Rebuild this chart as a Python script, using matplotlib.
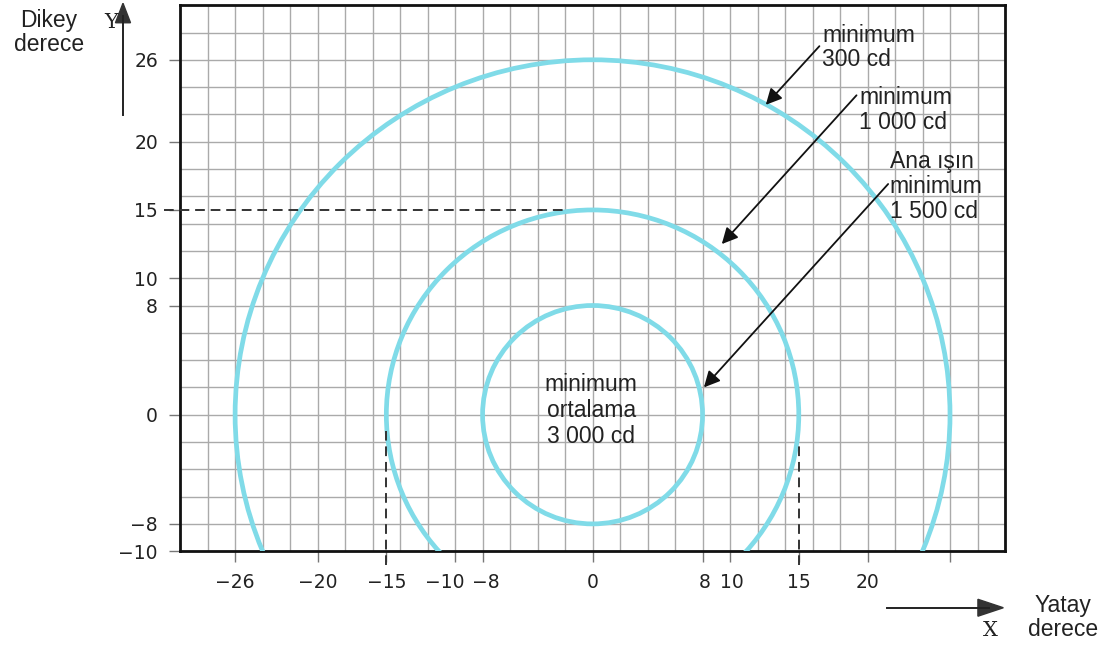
import matplotlib.pyplot as plt
import matplotlib.transforms as mtransforms
from matplotlib.patches import Circle
import numpy as np

# isolux circles (radius in degrees) and their labels
radii = [26, 15, 8]
labels = ['minimum\n300 cd', 'minimum\n1 000 cd', 'Ana ışın\nminimum\n1 500 cd']
# arrow heads on each circle and label anchor points
arrow_heads = [(12.6, 22.7), (9.4, 12.5), (8.1, 2.0)]
label_pos = [(16.7, 26.9), (19.4, 22.3), (21.6, 16.7)]
arrow_tails = [(16.5, 27.0), (19.2, 23.4), (21.5, 16.9)]

xticks = [-26, -20, -15, -10, -8, 0, 8, 10, 15, 20, 26]
xticklabels = ['−26', '−20', '−15', '−10', '−8', '0', '8', '10', '15', '20', '']
yticks = [26, 20, 15, 10, 8, 0, -8, -10]
yticklabels = ['26', '20', '15', '10', '8', '0', '−8', '−10']

# dashed guide lines
hline_y, hline_x = 15, (-31.2, -2.0)
vlines = [(-15, -11.0, -1.2), (15, -11.0, -1.9)]

circle_color = '#80dbe8'
txt = '#222222'

fig = plt.figure(figsize=(11.05, 6.5), dpi=100)
ax = fig.add_axes([0.163, 0.152, 0.7465, 0.840])
ax.set_xlim(-30, 30)
ax.set_ylim(-10, 30)

# grid every 2 degrees
ax.set_xticks(np.arange(-30, 31, 2), minor=True)
ax.set_yticks(np.arange(-10, 31, 2), minor=True)
ax.xaxis.remove_overlapping_locs = False
ax.yaxis.remove_overlapping_locs = False
ax.grid(which='minor', color='#aaaaaa', lw=1.0)
ax.tick_params(which='minor', length=0)

ax.set_xticks(xticks)
ax.set_xticklabels(xticklabels)
ax.set_yticks(yticks)
ax.set_yticklabels(yticklabels)
ax.tick_params(which='major', length=8, width=1, color='#777777',
               labelsize=13.5, pad=8, labelcolor=txt)
for s in ax.spines.values():
    s.set_linewidth(2.0)
    s.set_color('#111111')

# nudge the crowded -10 / -8 labels apart
for lab, dx in zip(ax.get_xticklabels(), [0, 0, 0, -10, 3, 0, 2, 2, 0, 0, 0]):
    if dx:
        lab.set_transform(lab.get_transform() +
                          mtransforms.ScaledTranslation(dx / 100, 0, fig.dpi_scale_trans))

for r in radii:
    ax.add_patch(Circle((0, 0), r, fill=False, ec=circle_color, lw=3.4, zorder=3))

ax.plot(hline_x, [hline_y, hline_y], ls=(0, (5, 3)), color='#333333', lw=1.4,
        clip_on=False, zorder=4)
for x, y0, y1 in vlines:
    ax.plot([x, x], [y0, y1], ls=(0, (5, 3)), color='#333333', lw=1.4,
            clip_on=False, zorder=4)

for (hx, hy), (ax_, ay), (tx, ty), lab in zip(arrow_heads, arrow_tails, label_pos, labels):
    ax.annotate('', xy=(hx, hy), xytext=(ax_, ay),
                arrowprops=dict(arrowstyle='-|>', color='#111111', lw=1.3,
                                mutation_scale=24, shrinkA=0, shrinkB=0),
                zorder=5)
    ax.text(tx, ty, lab, fontsize=16.5, family='Liberation Sans', color=txt,
            ha='left', va='center', linespacing=1.1, zorder=5)

ax.text(-0.1, 0.3, 'minimum\nortalama\n3 000 cd', fontsize=16.5, family='Liberation Sans',
        color=txt, ha='center', va='center', linespacing=1.15, zorder=5)

# axis direction labels outside the plot
fig.text(0.044, 0.950, 'Dikey\nderece', fontsize=16.5, family='Liberation Sans',
         color=txt, ha='center', va='center', linespacing=1.05)
fig.text(0.101, 0.966, 'Y', fontsize=15, family='DejaVu Serif', color=txt,
         ha='center', va='center')
fig.add_artist(plt.Line2D([0.1113, 0.1113], [0.823, 0.975], color='#222222', lw=1.4))
fig.patches.append(plt.Polygon([[0.1113, 0.995], [0.1045, 0.965], [0.1181, 0.965]],
                               closed=True, color='#333333', transform=fig.transFigure))
fig.add_artist(plt.Line2D([0.803, 0.895], [0.065, 0.065], color='#222222', lw=1.4))
fig.patches.append(plt.Polygon([[0.908, 0.065], [0.885, 0.078], [0.885, 0.052]],
                               closed=True, color='#333333', transform=fig.transFigure))
fig.text(0.896, 0.030, 'X', fontsize=15, family='DejaVu Serif', color=txt,
         ha='center', va='center')
fig.text(0.962, 0.050, 'Yatay\nderece', fontsize=16.5, family='Liberation Sans',
         color=txt, ha='center', va='center', linespacing=1.05)

fig.savefig('out.png', dpi=100, facecolor='white')
